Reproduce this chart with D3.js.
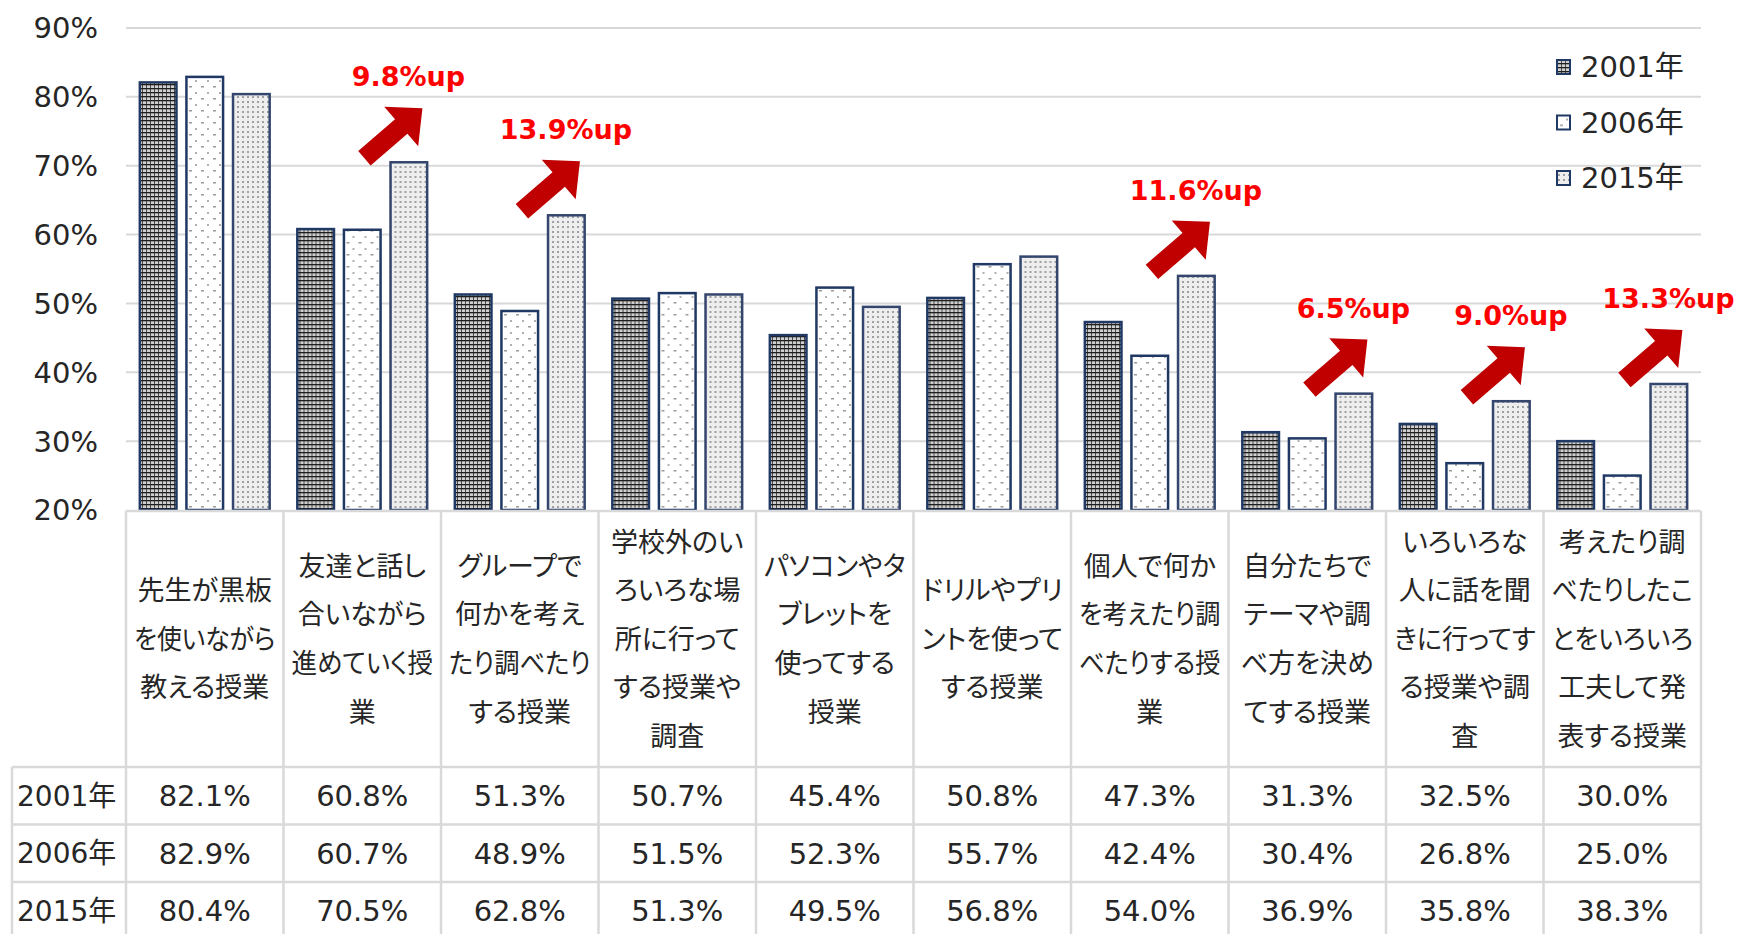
<!DOCTYPE html>
<html>
<head>
<meta charset="utf-8">
<script src="https://cdn.jsdelivr.net/npm/d3@7"></script>
<style>
  body { margin: 0; background: #fff; }
  .cat { font-feature-settings: "palt" 1; }
</style>
</head>
<body>
<div id="chart"></div>
<script>
// categories, split into the lines used in the table header
const categories = [
    ["先生が黒板", "を使いながら", "教える授業"],
    ["友達と話し", "合いながら", "進めていく授", "業"],
    ["グループで", "何かを考え", "たり調べたり", "する授業"],
    ["学校外のい", "ろいろな場", "所に行って", "する授業や", "調査"],
    ["パソコンやタ", "ブレットを", "使ってする", "授業"],
    ["ドリルやプリ", "ントを使って", "する授業"],
    ["個人で何か", "を考えたり調", "べたりする授", "業"],
    ["自分たちで", "テーマや調", "べ方を決め", "てする授業"],
    ["いろいろな", "人に話を聞", "きに行ってす", "る授業や調", "査"],
    ["考えたり調", "べたりしたこ", "とをいろいろ", "工夫して発", "表する授業"]
]
const years = ["2001年", "2006年", "2015年"]
const values2001 = [82.1, 60.8, 51.3, 50.7, 45.4, 50.8, 47.3, 31.3, 32.5, 30.0]
const values2006 = [82.9, 60.7, 48.9, 51.5, 52.3, 55.7, 42.4, 30.4, 26.8, 25.0]
const values2015 = [80.4, 70.5, 62.8, 51.3, 49.5, 56.8, 54.0, 36.9, 35.8, 38.3]
const yTicks = [20, 30, 40, 50, 60, 70, 80, 90]
// "up" callouts: category index and label
const upIndex = [1, 2, 6, 7, 8, 9]
const upLabels = ["9.8%up", "13.9%up", "11.6%up", "6.5%up", "9.0%up", "13.3%up"]

function main() {

    const width = 1746
    const height = 934
    const numFont = "'DejaVu Sans', 'Noto Sans CJK JP', sans-serif"
    const jpFont = "'Noto Sans CJK JP', sans-serif"
    const textColor = "#262626"
    const lineColor = "#d9d9d9"
    const barStroke = "#1f3864"

    const svg = d3.select("#chart").append("svg")
        .attr("width", width)
        .attr("height", height)
        .style("display", "block")

    const series = [values2001, values2006, values2015]

    const x0 = d3.scaleBand()
        .domain(d3.range(categories.length))
        .range([126, 1701])

    const x1 = d3.scaleBand()
        .domain(d3.range(years.length))
        .range([0, x0.bandwidth()])
        .paddingInner(0.16)
        .paddingOuter(0.27)

    const y = d3.scaleLinear()
        .domain([20, 90])
        .range([510, 28])

    // fill patterns for the three years
    const defs = svg.append("defs")

    const p1 = defs.append("pattern").attr("id", "pat0")
        .attr("patternUnits", "userSpaceOnUse").attr("width", 4).attr("height", 4)
    p1.append("rect").attr("width", 4).attr("height", 4).attr("fill", "#d0d0d0")
    p1.append("rect").attr("x", 0).attr("y", 0).attr("width", 1).attr("height", 4).attr("fill", "#4a4a4a")
    p1.append("rect").attr("x", 0).attr("y", 0).attr("width", 4).attr("height", 1.3).attr("fill", "#1e1e1e")

    const p2 = defs.append("pattern").attr("id", "pat1")
        .attr("patternUnits", "userSpaceOnUse").attr("width", 12).attr("height", 12)
    p2.append("rect").attr("width", 12).attr("height", 12).attr("fill", "#ffffff")
    p2.append("rect").attr("x", 3).attr("y", 2).attr("width", 3).attr("height", 1.5).attr("fill", "#9a9a9a")
    p2.append("rect").attr("x", 9).attr("y", 8).attr("width", 2).attr("height", 2).attr("fill", "#b0b0b0")

    const p3 = defs.append("pattern").attr("id", "pat2")
        .attr("patternUnits", "userSpaceOnUse").attr("width", 5).attr("height", 5)
    p3.append("rect").attr("width", 5).attr("height", 5).attr("fill", "#eeeeee")
    p3.append("rect").attr("x", 1).attr("y", 1).attr("width", 2).attr("height", 2).attr("fill", "#a0a0a0")

    // gridlines + y labels
    svg.append("g")
        .selectAll("line")
        .data(yTicks.slice(1))
        .enter().append("line")
        .attr("x1", x0.range()[0])
        .attr("x2", x0.range()[1])
        .attr("y1", d => y(d))
        .attr("y2", d => y(d))
        .attr("stroke", lineColor)
        .attr("stroke-width", 2)

    svg.append("g")
        .selectAll("text")
        .data(yTicks)
        .enter().append("text")
        .attr("x", 98)
        .attr("y", d => y(d))
        .attr("dy", "0.36em")
        .attr("text-anchor", "end")
        .attr("font-family", numFont)
        .attr("font-size", 29)
        .attr("fill", textColor)
        .text(d => d + "%")

    // bars
    const groups = svg.append("g")
        .selectAll("g")
        .data(categories)
        .enter().append("g")
        .attr("transform", (d, i) => "translate(" + x0(i) + ",0)")

    groups.selectAll("rect")
        .data((d, i) => series.map((s, k) => ({ k: k, v: s[i] })))
        .enter().append("rect")
        .attr("x", d => x1(d.k) + 1.25)
        .attr("y", d => y(d.v))
        .attr("width", x1.bandwidth() - 2.5)
        .attr("height", d => y(20) - y(d.v))
        .attr("fill", d => "url(#pat" + d.k + ")")
        .attr("stroke", (d) => d.k == 2 ? "#34466e" : barStroke)
        .attr("stroke-width", 2.5)

    // legend
    const legend = svg.append("g")
        .selectAll("g")
        .data(years)
        .enter().append("g")
        .attr("transform", (d, i) => "translate(1557," + (67 + i * 55.5) + ")")

    legend.append("rect")
        .attr("x", 0)
        .attr("y", -7)
        .attr("width", 13)
        .attr("height", 14)
        .attr("fill", (d, i) => "url(#pat" + i + ")")
        .attr("stroke", barStroke)
        .attr("stroke-width", 2)

    legend.append("text")
        .attr("x", 24)
        .attr("dy", "0.36em")
        .attr("font-family", numFont)
        .attr("font-size", 29)
        .attr("fill", textColor)
        .text(d => d)

    // red "up" arrows, placed from the 2015 bar top
    const arrowLen = 76.6
    const arrowAngle = Math.atan2(-50, 58) * 180 / Math.PI
    const headLen = 28, headHalf = 26, shaftHalf = 9.5
    const arrowPath = d3.path()
    arrowPath.moveTo(0, -shaftHalf)
    arrowPath.lineTo(arrowLen - headLen, -shaftHalf)
    arrowPath.lineTo(arrowLen - headLen, -headHalf)
    arrowPath.lineTo(arrowLen, 0)
    arrowPath.lineTo(arrowLen - headLen, headHalf)
    arrowPath.lineTo(arrowLen - headLen, shaftHalf)
    arrowPath.lineTo(0, shaftHalf)
    arrowPath.closePath()

    const ups = svg.append("g")
        .selectAll("g")
        .data(upIndex)
        .enter().append("g")

    const barRight = i => x0(i) + x1(2) + x1.bandwidth()

    ups.append("path")
        .attr("d", arrowPath.toString())
        .attr("fill", "#c00000")
        .attr("transform", i => "translate(" + (barRight(i) - 64) + "," + (y(values2015[i]) - 4) + ") rotate(" + arrowAngle + ")")

    ups.append("text")
        .attr("x", i => barRight(i) - 20)
        .attr("y", i => y(values2015[i]) - 76)
        .attr("text-anchor", "middle")
        .attr("font-family", "'DejaVu Sans', sans-serif")
        .attr("font-weight", "bold")
        .attr("font-size", 27)
        .attr("fill", "#ff0000")
        .text((d, j) => upLabels[j])

    // data table under the chart
    const tableTop = 511
    const headBottom = 767
    const rowH = 57.5
    const labelLeft = 12
    const table = svg.append("g")

    table.append("line")
        .attr("x1", x0.range()[0]).attr("x2", x0.range()[1])
        .attr("y1", tableTop).attr("y2", tableTop)
        .attr("stroke", lineColor).attr("stroke-width", 2.5)

    table.selectAll(".vline")
        .data(d3.range(categories.length + 1))
        .enter().append("line")
        .attr("class", "vline")
        .attr("x1", i => x0.range()[0] + i * x0.bandwidth())
        .attr("x2", i => x0.range()[0] + i * x0.bandwidth())
        .attr("y1", tableTop).attr("y2", height)
        .attr("stroke", lineColor).attr("stroke-width", 2.5)

    table.append("line")
        .attr("x1", labelLeft).attr("x2", labelLeft)
        .attr("y1", headBottom).attr("y2", height)
        .attr("stroke", lineColor).attr("stroke-width", 2.5)

    table.selectAll(".hline")
        .data(d3.range(years.length))
        .enter().append("line")
        .attr("class", "hline")
        .attr("x1", labelLeft).attr("x2", x0.range()[1])
        .attr("y1", i => headBottom + i * rowH)
        .attr("y2", i => headBottom + i * rowH)
        .attr("stroke", lineColor).attr("stroke-width", 2.5)

    // header labels, squeezed a little when a line is wider than the cell
    const lineH = 48.6
    const headMid = (tableTop + headBottom) / 2
    const maxLine = x0.bandwidth() - 16
    table.selectAll(".cat")
        .data(categories)
        .enter().append("text")
        .attr("class", "cat")
        .attr("text-anchor", "middle")
        .attr("font-family", jpFont)
        .attr("font-size", 27)
        .attr("fill", textColor)
        .each(function (lines, i) {
            const t = d3.select(this)
            const top = headMid - (lines.length - 1) * lineH / 2
            lines.forEach((l, j) => {
                const ts = t.append("tspan")
                    .attr("x", x0(i) + x0.bandwidth() / 2)
                    .attr("y", top + j * lineH)
                    .attr("dy", "0.36em")
                    .text(l)
                if (ts.node().getComputedTextLength() > maxLine) {
                    ts.attr("textLength", maxLine).attr("lengthAdjust", "spacingAndGlyphs")
                }
            })
        })

    // row labels + values
    years.forEach((yr, r) => {
        const cy = headBottom + r * rowH + rowH / 2
        table.append("text")
            .attr("x", labelLeft + 5)
            .attr("y", cy)
            .attr("dy", "0.36em")
            .attr("font-family", numFont)
            .attr("font-size", 28)
            .attr("fill", textColor)
            .text(yr)

        table.append("g")
            .selectAll("text")
            .data(series[r])
            .enter().append("text")
            .attr("x", (d, i) => x0(i) + x0.bandwidth() / 2)
            .attr("y", cy)
            .attr("dy", "0.36em")
            .attr("text-anchor", "middle")
            .attr("font-family", numFont)
            .attr("font-size", 29)
            .attr("fill", textColor)
            .text(d => d.toFixed(1) + "%")
    })
}
main();
</script>
</body>
</html>
